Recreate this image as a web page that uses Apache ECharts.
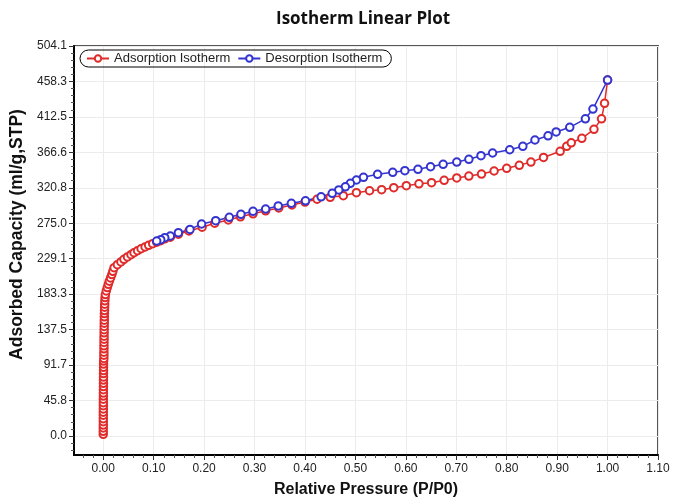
<!DOCTYPE html>
<html><head><meta charset="utf-8">
<script src="https://cdn.jsdelivr.net/npm/echarts@6/dist/echarts.min.js"></script>
<style>html,body{margin:0;padding:0;background:#fff}#c{width:673px;height:497px}</style>
</head><body><div id="c"></div>
<script>
const chartTitle = 'Isotherm Linear Plot';
const xName = 'Relative Pressure (P/P0)';
const yName = 'Adsorbed Capacity (ml/g,STP)';
const seriesNames = ['Adsorption Isotherm', 'Desorption Isotherm'];
const xTicks = [0, 0.1, 0.2, 0.3, 0.4, 0.5, 0.6, 0.7, 0.8, 0.9, 1.0, 1.1];
const yTicks = [0, 45.8, 91.7, 137.5, 183.3, 229.1, 275.0, 320.8, 366.6, 412.5, 458.3, 504.1];

const adsP = [0.0000,0.0000,0.0000,0.0001,0.0001,0.0001,0.0001,0.0001,0.0002,0.0002,0.0002,0.0002,0.0003,0.0003,0.0003,0.0004,0.0004,0.0004,0.0005,0.0005,0.0006,0.0006,0.0006,0.0007,
  0.0012,0.0013,0.0013,0.0014,0.0014,0.0015,0.0016,0.0016,0.0017,0.0018,0.0019,0.0020,0.0021,0.0022,0.0023,0.0025,0.0027,0.0029,0.0032,0.0036,0.0042,
  0.006,0.008,0.010,0.012,0.0145,0.017,0.019,0.0215,0.028,0.035,0.041,0.048,0.055,0.061,0.068,0.075,0.083,0.090,0.098,
  0.106,0.114,0.122,0.133,0.149,0.170,0.196,0.221,0.248,0.272,0.297,0.322,0.348,0.374,0.400,0.424,0.450,0.476,0.502,0.528,0.552,0.576,0.601,0.626,0.651,0.676,0.701,0.725,0.750,0.775,0.800,0.825,0.848,0.873,0.906,0.919,0.928,0.949,0.973,0.988,0.994,1.000];
const adsV = [2.1,6.0,10.3,14.1,18.5,22.4,26.8,30.7,35.0,39.2,43.1,47.5,51.6,55.4,59.9,63.8,68.0,72.3,76.1,80.6,84.5,88.7,92.9,96.8,
  100.2,104.5,108.3,112.7,116.6,120.9,125.1,129.0,133.4,137.3,141.6,145.8,149.7,154.0,158.2,162.1,166.5,170.4,174.7,178.9,182.8,
  187.5,191.8,196.0,200.1,204.3,208.6,212.9,217.5,221.4,225.0,228.4,231.4,234.3,237.0,239.5,242.0,244.3,246.5,248.5,
  250.5,252.5,254.8,257.0,260.8,265.0,269.8,275.0,279.2,283.3,287.2,291.0,294.8,298.6,302.3,306.0,308.5,310.6,314.5,317.0,318.4,321.0,323.5,326.0,327.4,330.5,333.5,336.0,338.6,342.5,346.0,349.9,354.0,360.0,368.0,374.4,379.0,384.8,396.4,410.0,430.0,460.0];

const desP = [1.000,0.971,0.956,0.925,0.898,0.882,0.856,0.832,0.806,0.772,0.749,0.725,0.701,0.674,0.649,0.624,0.598,0.574,0.544,0.516,0.502,0.490,0.480,0.467,0.454,0.432,0.401,0.373,0.347,0.322,0.297,0.273,0.250,0.223,0.195,0.172,0.149,0.133,0.122,0.114,0.106];
const desV = [460.0,422.6,410.0,399.0,393.0,388.0,382.6,374.4,370.0,365.8,362.3,357.6,354.1,351.2,348.0,344.7,342.9,340.8,338.2,334.4,330.9,326.6,322.0,318.0,313.7,309.2,304.0,300.7,297.3,293.4,290.4,286.5,282.7,278.3,274.0,267.0,262.8,258.5,256.3,253.7,252.0];

const colors = ['#e02b2b', '#3434d0'];
const xMin = -0.058, xMax = 1.1, yMin = -24.6, yMax = 504.1;

function minors(ticks, n, lo) {
  const out = [];
  const step0 = (ticks[1] - ticks[0]) / n;
  for (let v = ticks[0] - step0; v > lo; v -= step0) out.push(v);
  for (let i = 0; i < ticks.length - 1; i++) {
    const a = ticks[i], b = ticks[i + 1];
    for (let k = 1; k < n; k++) out.push(a + (b - a) * k / n);
  }
  return out;
}
const xMinor = minors(xTicks, 5, xMin);
const yMinor = minors(yTicks, 5, yMin);

const chart = echarts.init(document.getElementById('c'));
const labelFont = {fontFamily: 'Liberation Sans', fontSize: 12, color: '#222'};
const nameFont = {fontFamily: 'Liberation Sans', fontSize: 16, fontWeight: 'bold', color: '#111'};
chart.setOption({
  animation: false,
  backgroundColor: '#fff',
  title: {text: chartTitle, left: 271, top: 6, textStyle: {fontFamily: 'Open Sans', fontWeight: 'bold', fontSize: 17, color: '#111'}},
  legend: {
    left: 80, top: 50, orient: 'horizontal',
    borderColor: '#000', borderWidth: 1, borderRadius: 9, padding: [2, 9, 2, 6],
    itemWidth: 22, itemHeight: 8, itemGap: 7,
    textStyle: {fontFamily: 'Liberation Sans', fontSize: 13, color: '#222'},
    data: seriesNames
  },
  grid: {left: 74, right: 15, top: 46, bottom: 42, show: true, borderColor: '#555', borderWidth: 2, outerBoundsMode: 'none', containLabel: false},
  xAxis: [{
    type: 'value', min: xMin, max: xMax,
    name: xName, nameLocation: 'middle', nameGap: 27, nameTextStyle: nameFont,
    axisLine: {onZero: false, lineStyle: {color: '#000', width: 2}},
    axisTick: {customValues: xTicks, length: 5, lineStyle: {color: '#333'}},
    axisLabel: Object.assign({customValues: xTicks, formatter: v => v.toFixed(2), margin: 8}, labelFont),
    splitLine: {show: true, lineStyle: {color: '#ececec'}}
  }, {
    type: 'value', min: xMin, max: xMax, position: 'bottom',
    axisLine: {show: false, onZero: false}, axisLabel: {show: false}, splitLine: {show: false},
    axisTick: {customValues: xMinor, length: 3, lineStyle: {color: '#555'}}
  }],
  yAxis: [{
    type: 'value', min: yMin, max: yMax,
    name: yName, nameLocation: 'middle', nameGap: 45,
    nameTextStyle: Object.assign({}, nameFont, {fontSize: 17.5, padding: [0, 0, 0, 32]}),
    axisLine: {onZero: false, lineStyle: {color: '#000', width: 2}},
    axisTick: {customValues: yTicks, length: 5, lineStyle: {color: '#333'}},
    axisLabel: Object.assign({customValues: yTicks, formatter: v => v.toFixed(1), margin: 7}, labelFont),
    splitLine: {show: true, lineStyle: {color: '#ececec'}}
  }, {
    type: 'value', min: yMin, max: yMax, position: 'left',
    axisLine: {show: false, onZero: false}, axisLabel: {show: false}, splitLine: {show: false},
    axisTick: {customValues: yMinor, length: 3, lineStyle: {color: '#555'}}
  }],
  series: [
    {name: seriesNames[0], type: 'line', xAxisIndex: 0, yAxisIndex: 0,
     data: adsP.map((p, i) => [p, adsV[i]]),
     symbol: 'emptyCircle', symbolSize: 7.5, showAllSymbol: true,
     lineStyle: {color: colors[0], width: 1.5}, itemStyle: {color: colors[0], borderWidth: 1.5}},
    {name: seriesNames[1], type: 'line', xAxisIndex: 0, yAxisIndex: 0,
     data: desP.map((p, i) => [p, desV[i]]),
     symbol: 'emptyCircle', symbolSize: 7.5, showAllSymbol: true,
     lineStyle: {color: colors[1], width: 1.5}, itemStyle: {color: colors[1], borderWidth: 1.5}}
  ]
});
</script></body></html>
